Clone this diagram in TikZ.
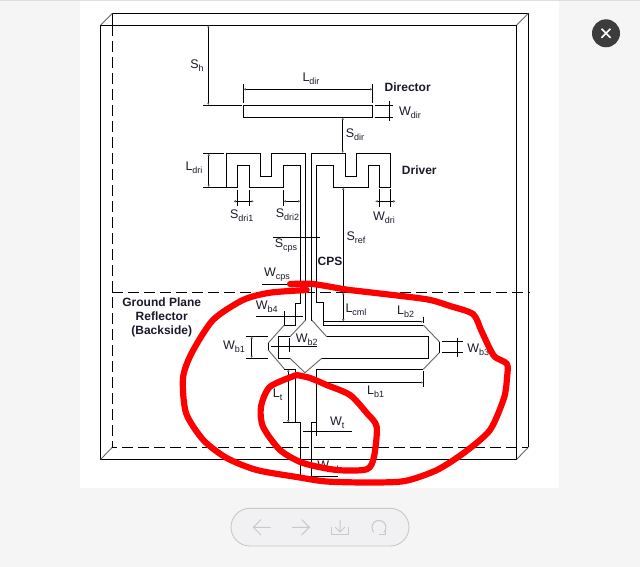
\documentclass[tikz,border=0pt]{standalone}
\usepackage{fontspec}
\setmainfont{Liberation Sans}
\usetikzlibrary{arrows.meta}
\definecolor{pagebg}{HTML}{F5F5F5}
\definecolor{pillbg}{HTML}{F1F1F3}
\definecolor{pilledge}{HTML}{C9C9C9}
\definecolor{closebg}{HTML}{3C3C3C}
\definecolor{inktext}{HTML}{1A1A2A}
\definecolor{diag}{HTML}{666666}
\newcommand{\lab}[2]{{\fontsize{12.5}{12.5}\selectfont #1\raisebox{-3pt}{\fontsize{9}{9}\selectfont #2}}}
\tikzset{
  ink/.style={draw=black,line width=0.9pt,line join=miter},
  chamfer/.style={draw=diag,line width=0.9pt},
  hidden/.style={draw=black,line width=0.9pt,dash pattern=on 11pt off 5pt},
  dimline/.style={draw=black,line width=0.8pt},
  dimboth/.style={dimline,{Latex[length=2.5pt,width=2.5pt,color=diag]}-{Latex[length=2.5pt,width=2.5pt,color=diag]}},
  dimend/.style={dimline,-{Latex[length=2.5pt,width=2.5pt,color=diag]}},
  txt/.style={inner sep=0pt,text=inktext},
  boldtxt/.style={inner sep=0pt,text=inktext,font=\fontsize{12}{14}\selectfont\bfseries,align=center},
  scribble/.style={draw=red,line width=6.2pt,line cap=round,line join=round},
  icon/.style={draw=pilledge,line width=1pt}
}
\begin{document}
\begin{tikzpicture}[x=1pt,y=-1pt]
\useasboundingbox (0,0) rectangle (640,567);
\fill[pagebg] (0,0) rectangle (640,567);
\fill[white] (80,1) rectangle (559,488);
\fill[black!13] (0,0) rectangle (640,1);

% substrate box
\draw[ink] (100.7,25) rectangle (516.7,459.3);
\draw[ink] (112.3,25) -- (112.3,13.5) -- (528.3,13.5) -- (528.3,447.3);
\draw[chamfer] (100.7,25) -- (112.3,13.5);
\draw[chamfer] (516.7,25) -- (528.3,13.5);
\draw[chamfer] (516.7,459.3) -- (528.3,447.3);
\draw[chamfer] (100.7,459.3) -- (112.3,447.3);
\draw[hidden] (112.3,25) -- (112.3,447.3) -- (528.3,447.3);
\draw[hidden] (112.3,292) -- (530,292);

% director
\draw[ink] (243.3,105.3) rectangle (372.7,117.3);
\draw[ink] (243.3,84) -- (243.3,103);
\draw[ink] (372.7,84) -- (372.7,103);
\draw[dimboth] (243.3,89.3) -- (372.7,89.3);
\draw[dimboth] (208.3,25) -- (208.3,105.3);
\draw[ink] (203.3,105.3) -- (241.5,105.3);
\draw[dimboth] (342.7,117.3) -- (342.7,153.3);
\draw[ink] (375,105.3) -- (393,105.3);
\draw[ink] (375,117.3) -- (393,117.3);
\draw[dimline] (389,101) -- (389,121);

% driver
\draw[ink] (305.7,321) -- (305.7,153.3) -- (271.3,153.3) -- (271.3,176.3) -- (260.7,176.3) -- (260.7,153.3) -- (226.7,153.3) -- (226.7,187.3) -- (237.3,187.3) -- (237.3,165.3) -- (249.7,165.3) -- (249.7,187.3) -- (283.3,187.3) -- (283.3,165.3) -- (300.7,165.3) -- (300.7,303) -- (295,303) -- (295,325) -- (284.3,325);
\draw[ink] (311.7,321) -- (311.7,153.3) -- (345.3,153.3) -- (345.3,176.3) -- (356.7,176.3) -- (356.7,153.3) -- (390.7,153.3) -- (390.7,187.3) -- (379.3,187.3) -- (379.3,165.3) -- (368.3,165.3) -- (368.3,187.3) -- (333.3,187.3) -- (333.3,165.3) -- (316.7,165.3) -- (316.7,302) -- (323.3,302) -- (323.3,325) -- (423.3,325);

% driver dimensions
\draw[dimboth] (208.7,153.3) -- (208.7,187.3);
\draw[ink] (203.3,153.3) -- (224,153.3);
\draw[ink] (203.3,187.3) -- (226.7,187.3);
\draw[ink] (237.3,190) -- (237.3,206);
\draw[ink] (249.7,190) -- (249.7,206);
\draw[dimboth] (233.3,201.3) -- (254,201.3);
\draw[ink] (283.3,190) -- (283.3,206);
\draw[dimboth] (283.3,201.3) -- (300.7,201.3);
\draw[ink] (379.3,189) -- (379.3,206.7);
\draw[ink] (390.7,189) -- (390.7,206.7);
\draw[dimboth] (375,201.3) -- (395.7,201.3);
\draw[dimline] (272.7,237.7) -- (320,237.7);
\draw[dimline] (262.3,284) -- (300,284);
\draw[dimboth] (343.3,187.3) -- (343.3,292);
\draw[dimboth] (343.3,292) -- (343.3,321.7);

% balun arms
\draw[chamfer] (284.3,325) -- (268.3,343);
\draw[ink] (268.3,343) -- (268.3,350);
\draw[chamfer] (268.3,350) -- (284.3,368.8);
\draw[ink] (284.3,369.3) -- (295,369.3) -- (295,422.7) -- (300,422.7) -- (300,476.3) -- (311.7,476.3) -- (311.7,422.7) -- (316.3,422.7) -- (316.3,369.3) -- (423.3,369.3);
\draw[chamfer] (423.3,325) -- (439.3,341.7);
\draw[ink] (439.3,341.7) -- (439.3,352.7);
\draw[chamfer] (439.3,352.7) -- (423.3,369.3);
\draw[chamfer] (305.7,320) -- (290,336.7);
\draw[chamfer] (311.7,320) -- (326.7,336.7);
\draw[ink] (290,336.7) -- (278.3,336.7) -- (278.3,358.3) -- (290,358.3);
\draw[ink] (326.7,336.7) -- (428.3,336.7) -- (428.3,358.3) -- (321.7,358.3);
\draw[chamfer] (290,358.3) -- (305,372.7) -- (321.7,358.3);

% balun dimensions
\draw[dimend] (323.3,321.7) -- (423.3,321.7);
\draw[ink] (423.3,316.7) -- (423.3,323);
\draw[dimend] (326.7,382.5) -- (423.3,382.5);
\draw[ink] (423.3,370.7) -- (423.3,387.3);
\draw[ink] (441.7,341.7) -- (462.7,341.7);
\draw[ink] (441.7,352.7) -- (462.7,352.7);
\draw[dimline] (457.7,337.7) -- (457.7,357.3);
\draw[ink] (246,336) -- (268,336);
\draw[ink] (246,358.3) -- (268,358.3);
\draw[dimboth] (251.7,336) -- (251.7,358.3);
\draw[dimline] (271,346.7) -- (316.7,346.7);
\draw[dimline] (289.3,338) -- (289.3,351.7);
\draw[dimline] (256,316) -- (303,316);
\draw[dimline] (284.3,311) -- (284.3,325);
\draw[dimboth] (288.3,369.3) -- (288.3,422.7);
\draw[ink] (283.3,422.7) -- (295,422.7);
\draw[dimline] (303.3,431.7) -- (351.7,431.7);
\draw[dimline] (316.3,422.7) -- (316.3,436);
\draw[ink] (311.7,476.3) -- (338,476.3);

% labels
\node[txt] (lsh) at (197,66) {\lab{S}{h}};
\node[txt] (lldir) at (311,79) {\lab{L}{dir}};
\node[boldtxt] (ldirector) at (407.7,87) {Director};
\node[txt] (lwdir) at (410,113) {\lab{W}{dir}};
\node[txt] (lsdir) at (355,135) {\lab{S}{dir}};
\node[txt] (lldri) at (194,168) {\lab{L}{dri}};
\node[boldtxt] (ldriver) at (419.3,170) {Driver};
\node[txt] (lsdri1) at (241.7,216) {\lab{S}{dri1}};
\node[txt] (lsdri2) at (287.5,215) {\lab{S}{dri2}};
\node[txt] (lwdri) at (384,218) {\lab{W}{dri}};
\node[txt] (lsref) at (356,237.5) {\lab{S}{ref}};
\node[txt] (lscps) at (286,246) {\lab{S}{cps}};
\node[boldtxt] (lcps) at (330,261) {CPS};
\node[txt] (lwcps) at (277,275) {\lab{W}{cps}};
\node[boldtxt] (lground) at (161.7,317) {Ground Plane\\Reflector\\(Backside)};
\node[txt] (lwb4) at (266.7,307) {\lab{W}{b4}};
\node[txt] (llcml) at (356,310) {\lab{L}{cml}};
\node[txt] (llb2) at (405.7,312) {\lab{L}{b2}};
\node[txt] (lwb2) at (306.7,339.5) {\lab{W}{b2}};
\node[txt] (lwb1) at (234,347) {\lab{W}{b1}};
\node[txt] (lwb3) at (478.3,349.5) {\lab{W}{b3}};
\node[txt] (llb1) at (375.7,392) {\lab{L}{b1}};
\node[txt] (llt) at (277.7,395) {\lab{L}{t}};
\node[txt] (lwt) at (337.3,423) {\lab{W}{t}};
\node[txt] (lwml) at (328,467) {\lab{W}{ml}};

% red scribbles
\draw[scribble] plot[smooth,tension=0.45] coordinates {
 (290,284) (313,284) (346,289.5) (373,292.7) (426.7,299.3) (450,306) (473,314) (481,330) (489,347) (495,357) (507,364) (507,378) (504,398) (490,430) (465,452) (437,470) (405,481) (370,482.5) (326.7,481.5) (296.7,477) (256.7,470) (226.7,458) (203.3,440) (186,413) (183,378) (191.7,353) (213,320) (243,300) (270,292.7) (306.7,290)};
\draw[scribble] plot[smooth,tension=0.45] coordinates {
 (296.7,375) (270,386.7) (261,406.7) (263,426.7) (280,450) (303,463) (336.7,470) (366.7,469.3) (374,456.7) (376.7,426.7) (366.7,413) (350,395) (326.7,385) (310,378) (296.7,375)};

% viewer controls
\fill[closebg] (606,33.3) circle (14);
\draw[white,line width=1.6pt] (601.5,28.8) -- (610.5,37.8) (610.5,28.8) -- (601.5,37.8);
\draw[draw=pilledge,fill=pillbg,line width=0.9pt,rounded corners=18.8pt] (231,508.3) rectangle (409,546);
\draw[icon] (270.7,527.3) -- (253.3,527.3) (261,519.5) -- (253.3,527.3) -- (261,535);
\draw[icon] (292,527.3) -- (309.5,527.3) (301.5,519.5) -- (309.5,527.3) -- (301.5,535);
\draw[icon] (340,520) -- (340,532) (335,527) -- (340,532) -- (345,527);
\draw[icon] (331.5,526.5) -- (331.5,534.5) -- (348,534.5) -- (348,526.5);
\draw[icon] (383.9,532.4) arc[start angle=45,end angle=-225,radius=7];
\draw[icon] (385,528) -- (385,534) -- (379,534);
\end{tikzpicture}
\end{document}
